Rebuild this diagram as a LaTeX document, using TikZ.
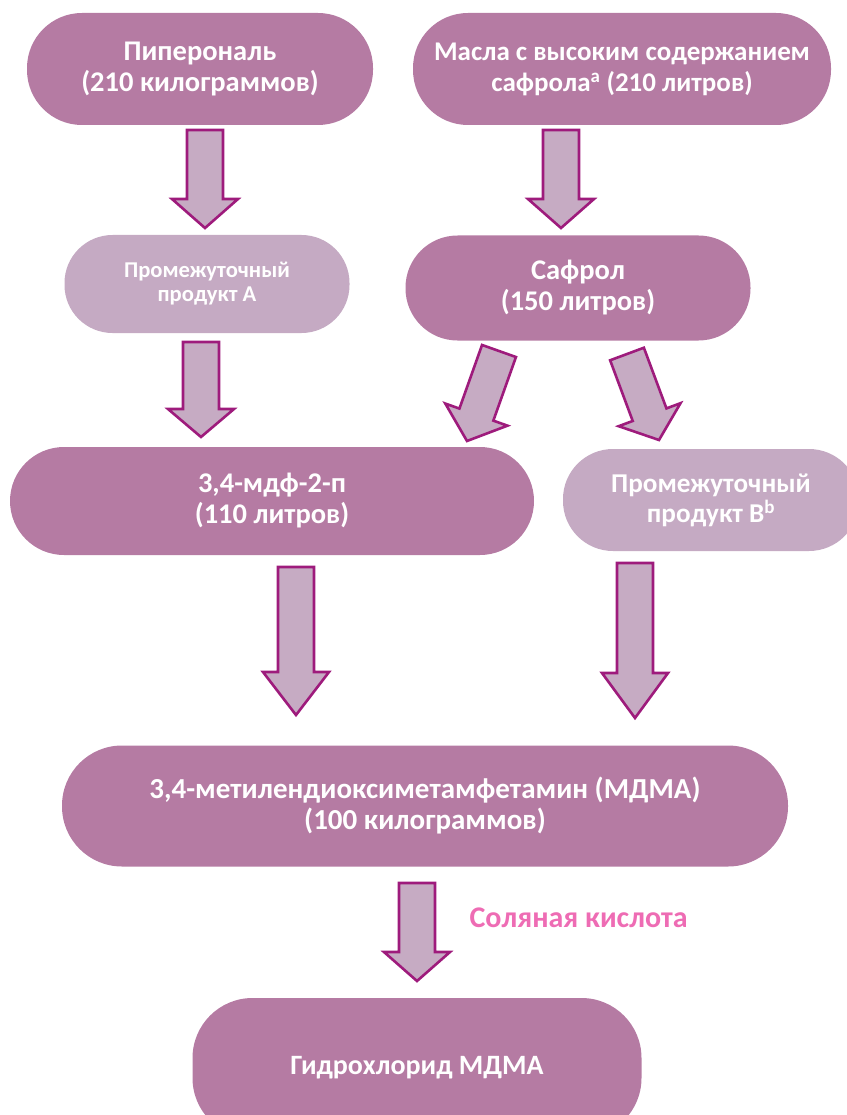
\documentclass[tikz,border=0pt]{standalone}
\usepackage{fontspec}
\setmainfont{Carlito}
\usetikzlibrary{calc}

\definecolor{stagedark}{RGB}{181,123,163}
\definecolor{stagelight}{RGB}{197,170,195}
\definecolor{arrowfill}{RGB}{198,171,195}
\definecolor{arrowline}{RGB}{158,27,124}
\definecolor{acidpink}{RGB}{238,108,180}

\tikzset{
	stage/.style={rectangle, rounded corners=54pt, fill=stagedark, text=white, align=center,
		inner sep=0pt, font=\bfseries\fontsize{28.5}{31}\selectfont},
	interm/.style={stage, fill=stagelight},
	fatarrow/.style={fill=arrowfill, draw=arrowline, line width=2.6pt, line join=miter},
}

% block arrow between two named coordinates, optional head length
\newcommand{\blockarrow}[3][29pt]{%
	\draw[fatarrow] let \p1=($(#3)-(#2)$), \n1={atan2(\y1,\x1)}, \n2={veclen(\x1,\y1)} in
		($(#2)+(\n1+90:18pt)$) -- ($(#2)+(\n1:\n2-#1)+(\n1+90:18pt)$)
		-- ($(#2)+(\n1:\n2-#1)+(\n1+90:33pt)$) -- (#3)
		-- ($(#2)+(\n1:\n2-#1)+(\n1-90:33pt)$) -- ($(#2)+(\n1:\n2-#1)+(\n1-90:18pt)$)
		-- ($(#2)+(\n1-90:18pt)$) -- cycle;}

\begin{document}
\begin{tikzpicture}[x=1pt,y=-1pt]
		\useasboundingbox (0,0) rectangle (846,1115);
		\node[stage, minimum width=346pt, minimum height=112pt, rounded corners=55pt] (piper) at (200,69) {Пиперональ\\(210 килограммов)};
		\node[stage, minimum width=418pt, minimum height=112pt, rounded corners=55pt, font=\bfseries\fontsize{27}{31}\selectfont] (oils) at (622,69) {Масла с высоким содержанием\\сафрола\textsuperscript{a} (210 литров)};
		\node[interm, minimum width=285pt, minimum height=98pt, rounded corners=48pt, font=\bfseries\fontsize{22.6}{24}\selectfont] (intA) at (207,284) {Промежуточный\\продукт А};
		\node[stage, minimum width=345pt, minimum height=105pt, rounded corners=52pt] (safrole) at (578,288) {Сафрол\\(150 литров)};
		\node[stage, minimum width=524pt, minimum height=108pt] (mdp) at (272,501) {3,4-мдф-2-п\\(110 литров)};
		\node[interm, minimum width=296pt, minimum height=102pt, rounded corners=50pt, font=\bfseries\fontsize{27.2}{30}\selectfont] (intB) at (711,500) {Промежуточный\\продукт В\textsuperscript{b}};
		\node[stage, minimum width=726pt, minimum height=121pt, rounded corners=60pt, font=\bfseries\fontsize{29}{31}\selectfont] (mdma) at (425,806) {3,4-метилендиоксиметамфетамин (МДМА)\\(100 килограммов)};
		\node[stage, minimum width=449pt, minimum height=140pt, rounded corners=60pt, font=\bfseries\fontsize{28}{31}\selectfont] (hcl) at (417,1068) {Гидрохлорид МДМА};
		\node[anchor=west, text=acidpink, font=\bfseries\fontsize{30}{32}\selectfont] (acid) at (466,918) {Соляная кислота};

		\coordinate (a1s) at (205,130);
		\coordinate (a1e) at (205,228);
		\coordinate (a2s) at (561,130);
		\coordinate (a2e) at (561,228);
		\coordinate (a3s) at (201,342);
		\coordinate (a3e) at (201,437);
		\coordinate (a4s) at (499,351);
		\coordinate (a4e) at (467,441);
		\coordinate (a5s) at (627,354);
		\coordinate (a5e) at (659,440);
		\coordinate (a6s) at (296,567);
		\coordinate (a6e) at (296,715);
		\coordinate (a7s) at (635,563);
		\coordinate (a7e) at (635,718);
		\coordinate (a8s) at (417,883);
		\coordinate (a8e) at (417,981);

		\blockarrow{a1s}{a1e}
		\blockarrow{a2s}{a2e}
		\blockarrow[28pt]{a3s}{a3e}
		\blockarrow[28pt]{a4s}{a4e}
		\blockarrow[27pt]{a5s}{a5e}
		\blockarrow[43pt]{a6s}{a6e}
		\blockarrow[45pt]{a7s}{a7e}
		\blockarrow{a8s}{a8e}
\end{tikzpicture}
\end{document}
